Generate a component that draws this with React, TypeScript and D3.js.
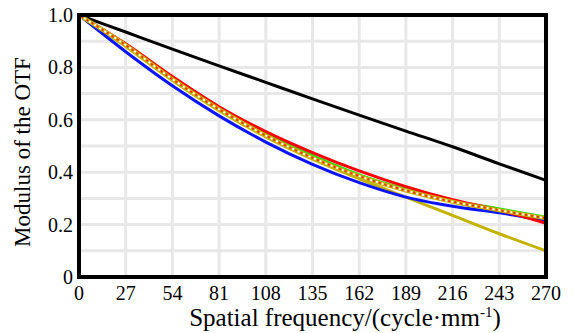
import React, { useEffect, useRef } from 'react';
import * as d3 from 'd3';

// spatial frequency samples (cycle/mm)
const freqs = [0, 27, 54, 81, 108, 135, 162, 189, 216, 243, 270];
// MTF curves
const diffLimit = [1.0, 0.935, 0.87, 0.806, 0.743, 0.68, 0.618, 0.557, 0.497, 0.432, 0.369];
const blueCurve = [1.0, 0.86, 0.73, 0.615, 0.515, 0.43, 0.36, 0.305, 0.27, 0.245, 0.215];
const redCurve = [1.0, 0.89, 0.765, 0.65, 0.555, 0.475, 0.405, 0.345, 0.295, 0.255, 0.205];
const greenCurve = [1.0, 0.885, 0.76, 0.64, 0.545, 0.463, 0.39, 0.335, 0.29, 0.26, 0.228];
const yellowCurve = [1.0, 0.88, 0.75, 0.635, 0.535, 0.45, 0.375, 0.305, 0.235, 0.165, 0.1];
const dottedCurve = [1.0, 0.885, 0.755, 0.64, 0.54, 0.455, 0.385, 0.33, 0.287, 0.255, 0.224];

const xTicks = [0, 27, 54, 81, 108, 135, 162, 189, 216, 243, 270];
const yTicks = [0, 0.2, 0.4, 0.6, 0.8, 1.0];
const yGrid = [0.1, 0.2, 0.3, 0.4, 0.5, 0.6, 0.7, 0.8, 0.9];

const FONT = 'Times New Roman, Liberation Serif, DejaVu Serif, Noto Serif, serif';

const App = () => {
  const svgRef = useRef<SVGSVGElement | null>(null);

  useEffect(() => {
    if (!svgRef.current) return;
    const width = 574;
    const height = 333;
    const left = 79, right = 546, top = 15, bottom = 277;

    const svg = d3.select(svgRef.current)
      .attr('width', width)
      .attr('height', height);
    svg.selectAll('*').remove();

    const x = d3.scaleLinear().domain([0, 270]).range([left, right]);
    const y = d3.scaleLinear().domain([0, 1]).range([bottom, top]);

    svg.append('rect').attr('width', width).attr('height', height).attr('fill', '#fff');

    // grid
    const grid = svg.append('g');
    grid.selectAll('.vg')
      .data(xTicks.slice(1, -1))
      .enter()
      .append('line')
      .attr('x1', d => x(d)).attr('x2', d => x(d))
      .attr('y1', top).attr('y2', bottom)
      .style('stroke', '#e8e8e8')
      .style('stroke-width', '3px');
    grid.selectAll('.hg')
      .data(yGrid)
      .enter()
      .append('line')
      .attr('x1', left).attr('x2', right)
      .attr('y1', d => y(d)).attr('y2', d => y(d))
      .style('stroke', '#e8e8e8')
      .style('stroke-width', '3px');

    const line = (vals: number[]) =>
      d3.line<number>()
        .x((d, i) => x(freqs[i]))
        .y(d => y(d))
        .curve(d3.curveMonotoneX)(vals) as string;

    const plot = svg.append('g');
    const drawLine = (vals: number[], color: string, w: number, dash?: string) => {
      const p = plot.append('path')
        .attr('d', line(vals))
        .style('fill', 'none')
        .style('stroke', color)
        .style('stroke-width', `${w}px`)
        .style('stroke-linejoin', 'round');
      if (dash) p.style('stroke-dasharray', dash);
      return p;
    };

    drawLine(diffLimit, '#000000', 3);
    drawLine(yellowCurve, '#c4b200', 3);
    drawLine(blueCurve, '#0a14ff', 3);
    drawLine(greenCurve, '#12e612', 3);
    drawLine(redCurve, '#ff0000', 3);
    drawLine(dottedCurve, '#c4b200', 4);
    drawLine(dottedCurve, '#ffffff', 2, '2 4');
    drawLine(dottedCurve, '#ff2a00', 2, '2 4').attr('stroke-dashoffset', 3);

    // frame
    svg.append('rect')
      .attr('x', left).attr('y', top)
      .attr('width', right - left).attr('height', bottom - top)
      .style('fill', 'none')
      .style('stroke', '#000')
      .style('stroke-width', '4px');

    // tick labels
    svg.selectAll('.xt')
      .data(xTicks)
      .enter()
      .append('text')
      .attr('x', d => x(d))
      .attr('y', 300)
      .attr('text-anchor', 'middle')
      .style('font-family', FONT)
      .style('font-size', '20px')
      .attr('fill', '#000')
      .text(d => String(d));

    svg.selectAll('.yt')
      .data(yTicks)
      .enter()
      .append('text')
      .attr('x', 73)
      .attr('y', d => y(d) + 7)
      .attr('text-anchor', 'end')
      .style('font-family', FONT)
      .style('font-size', '20px')
      .attr('fill', '#000')
      .text(d => (d === 0 ? '0' : d.toFixed(1)));

    // axis titles
    const xt = svg.append('text')
      .attr('x', 345)
      .attr('y', 326)
      .attr('text-anchor', 'middle')
      .style('font-family', FONT)
      .style('font-size', '25px')
      .attr('fill', '#000');
    xt.append('tspan').text('Spatial frequency/(cycle·mm');
    xt.append('tspan').attr('dy', -9).style('font-size', '15px').text('-1');
    xt.append('tspan').attr('dy', 9).text(')');

    svg.append('text')
      .attr('transform', `translate(30, ${(top + bottom) / 2 + 6}) rotate(-90)`)
      .attr('text-anchor', 'middle')
      .style('font-family', FONT)
      .style('font-size', '23px')
      .attr('fill', '#000')
      .text('Modulus of the OTF');
  }, []);

  return (
    <div style={{ position: 'absolute', left: 0, top: 0 }}>
      <svg ref={svgRef}></svg>
    </div>
  );
};

export default App;
